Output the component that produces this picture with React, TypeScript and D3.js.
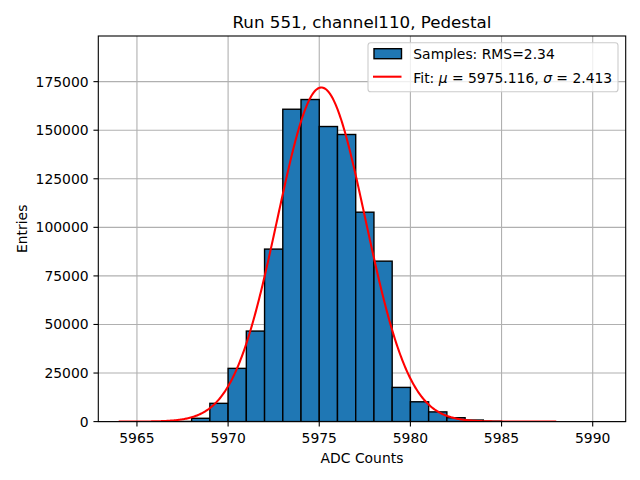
import React from 'react';
import * as d3 from 'd3';

// histogram bins (left edges, width 1 ADC count) and their entries
const binEdges = d3.range(5964, 5988);
const binCounts = [
  0, 0, 0, 100, 1700, 9400, 27400, 46600, 88800, 160800, 165800, 151900,
  147800, 107800, 82600, 17600, 10200, 5000, 2000, 800, 200, 0, 0, 0,
];
// gaussian fit parameters
const fitMu = 5975.116;
const fitSigma = 2.413;
const fitAmp = 172000;
const fitRange = [5964, 5988];

const xTicks = [5965, 5970, 5975, 5980, 5985, 5990];
const yTicks = [0, 25000, 50000, 75000, 100000, 125000, 150000, 175000];

const W = 640;
const H = 480;
const m = { left: 98.3, right: 14.3, top: 36, bottom: 58.4 };
const FONT = 'DejaVu Sans, sans-serif';

export default function App() {
  const x = d3.scaleLinear().domain([5962.88, 5991.81]).range([m.left, W - m.right]);
  const y = d3.scaleLinear().domain([0, 198500]).range([H - m.bottom, m.top]);

  const fitX = d3.range(fitRange[0], fitRange[1] + 0.001, 0.05);
  const fitLine = d3.line<number>()
    .x(d => x(d))
    .y(d => y(fitAmp * Math.exp(-0.5 * ((d - fitMu) / fitSigma) ** 2)));

  const x0 = m.left, x1 = W - m.right, y0 = H - m.bottom, y1 = m.top;

  return (
    <div style={{ position: 'fixed', left: 0, top: 0 }}>
      <svg width={W} height={H} style={{ display: 'block', background: '#fff' }} fontFamily={FONT}>
        <defs>
          <clipPath id="plot">
            <rect x={x0} y={y1} width={x1 - x0} height={y0 - y1} />
          </clipPath>
        </defs>
        {/* grid */}
        <g stroke="#b0b0b0" strokeWidth={1.1}>
          {xTicks.map(t => <line key={'gx' + t} x1={x(t)} x2={x(t)} y1={y1} y2={y0} />)}
          {yTicks.map(t => <line key={'gy' + t} x1={x0} x2={x1} y1={y(t)} y2={y(t)} />)}
        </g>
        {/* bars */}
        <g clipPath="url(#plot)">
          {binEdges.map((e, i) => binCounts[i] > 0 && (
            <rect key={e} x={x(e)} y={y(binCounts[i])} width={x(e + 1) - x(e)}
              height={y(0) - y(binCounts[i])} fill="#1f77b4" stroke="#000" strokeWidth={1.4} />
          ))}
          <path d={fitLine(fitX) || ''} fill="none" stroke="red" strokeWidth={2.08} />
        </g>
        {/* spines */}
        <rect x={x0} y={y1} width={x1 - x0} height={y0 - y1} fill="none" stroke="#000" strokeWidth={1.1} />
        {/* x axis */}
        <g fontSize={13.9} fill="#000">
          {xTicks.map(t => (
            <g key={'xt' + t}>
              <line x1={x(t)} x2={x(t)} y1={y0} y2={y0 + 4.86} stroke="#000" strokeWidth={1.1} />
              <text x={x(t)} y={y0 + 21} textAnchor="middle">{t}</text>
            </g>
          ))}
          {yTicks.map(t => (
            <g key={'yt' + t}>
              <line x1={x0 - 4.86} x2={x0} y1={y(t)} y2={y(t)} stroke="#000" strokeWidth={1.1} />
              <text x={x0 - 9.7} y={y(t)} dy="0.36em" textAnchor="end">{t}</text>
            </g>
          ))}
          <text x={(x0 + x1) / 2} y={463} textAnchor="middle">ADC Counts</text>
          <text transform={`translate(26.5,${(y0 + y1) / 2}) rotate(-90)`} textAnchor="middle">Entries</text>
        </g>
        <text x={(x0 + x1) / 2} y={27.7} textAnchor="middle" fontSize={16.7}>Run 551, channel110, Pedestal</text>
        {/* legend */}
        <g fontSize={13.9}>
          <rect x={368} y={42.7} width={250} height={49} rx={2.8} fill="#fff" fillOpacity={0.8} stroke="#cccccc" strokeWidth={1.1} />
          <rect x={374} y={48.7} width={27.5} height={10} fill="#1f77b4" stroke="#000" strokeWidth={1.4} />
          <line x1={373} x2={401.5} y1={76.7} y2={76.7} stroke="red" strokeWidth={2.08} />
          <text x={413.3} y={58.5}>Samples: RMS=2.34</text>
          <text x={413.3} y={83.3}>
            Fit: <tspan fontStyle="italic">μ</tspan> = 5975.116, <tspan fontStyle="italic">σ</tspan> = 2.413
          </text>
        </g>
      </svg>
    </div>
  );
}
